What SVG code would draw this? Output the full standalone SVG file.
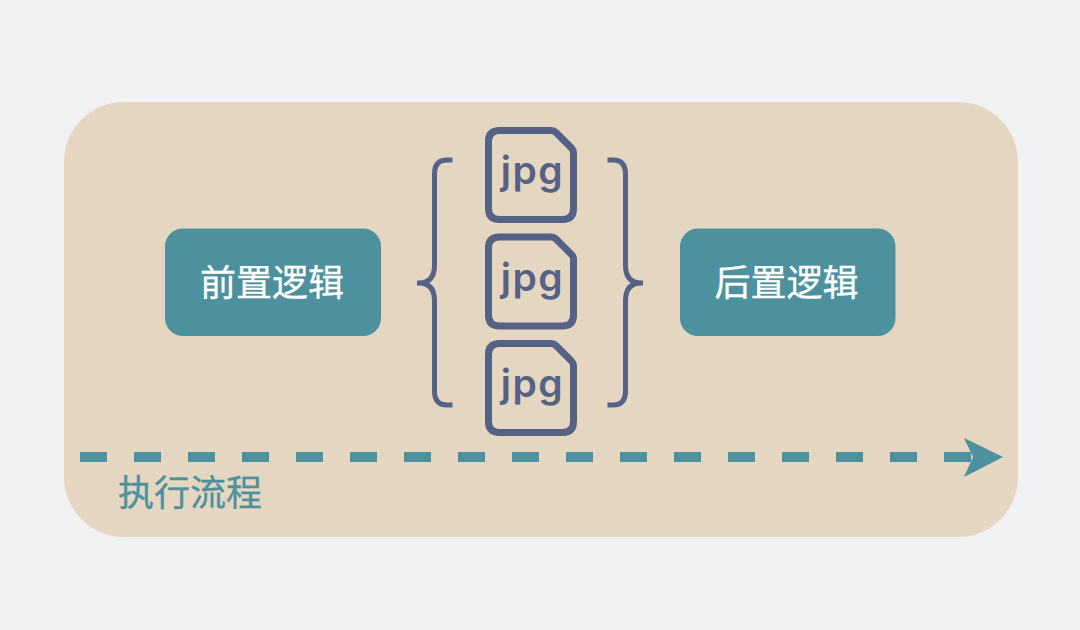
<svg xmlns="http://www.w3.org/2000/svg" width="1080" height="630" viewBox="0 0 1080 630">
<style>
.cjk{font-family:"Noto Sans CJK SC","Noto Sans",sans-serif;font-size:36px}
.box{fill:#4c919d}
.white{fill:#ffffff}
.file{fill:none;stroke:#566186;stroke-width:7;stroke-linejoin:round}
.jpg{font-family:Inter,"Noto Sans",sans-serif;font-size:39px;font-weight:600;letter-spacing:1.500px;fill:#566186;text-anchor:middle}
.brace{fill:none;stroke:#566186;stroke-width:5}
</style>
<defs>
<g id="fileicon">
<path class="file" d="M499.500 130.500H551Q554 130.500 556 132.500L571.500 148Q573.500 150 573.500 153V208.500Q573.500 219.500 562.500 219.500H499.500Q488.500 219.500 488.500 208.500V141.500Q488.500 130.500 499.500 130.500Z"/>
<text class="jpg" x="532.500" y="184">jpg</text>
</g>
</defs>
<rect width="1080" height="630" fill="#eff1f3"/>
<rect id="panel" x="64" y="102" width="954" height="435" rx="60" ry="60" fill="#e5d6c1"/>
<g id="node-before"><rect class="box" x="165" y="228.500" width="216" height="107.500" rx="18"/><text class="cjk white" x="200" y="296" stroke="#ffffff" stroke-width="0.300">前置逻辑</text></g>
<g id="node-after"><rect class="box" x="680" y="228.500" width="215.500" height="107.500" rx="18"/><text class="cjk white" x="714.500" y="296" stroke="#ffffff" stroke-width="0.300">后置逻辑</text></g>
<g id="file-1"><use href="#fileicon"/></g>
<g id="file-2"><use href="#fileicon" y="106.500"/></g>
<g id="file-3"><use href="#fileicon" y="213"/></g>
<g id="brace-left"><path class="brace" d="M452.500 160H447Q434.500 160 434.500 174V265Q434.500 283 419 283H417M419 283Q434.500 283 434.500 301V391Q434.500 405 447 405H452.500"/></g>
<g id="brace-right"><path class="brace" d="M607.500 160H613Q625.500 160 625.500 174V265Q625.500 283 641 283H643M641 283Q625.500 283 625.500 301V391Q625.500 405 613 405H607.500"/></g>
<g id="connectors">
<line x1="80" y1="457" x2="972" y2="457" stroke="#4c919d" stroke-width="10" stroke-dasharray="27 27"/>
<path d="M964 438L1003 457L964 477L973 457Z" fill="#4c919d"/>
</g>
<text id="flow-label" class="cjk" x="118" y="506" fill="#4c919d" stroke="#4c919d" stroke-width="0.300">执行流程</text>
</svg>
